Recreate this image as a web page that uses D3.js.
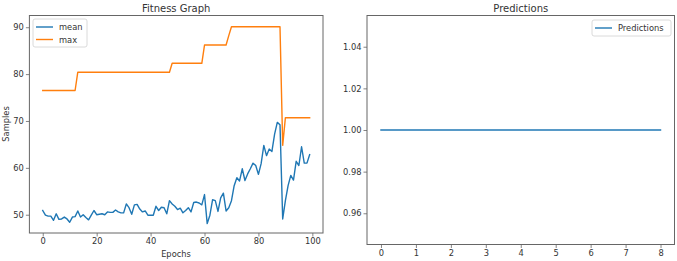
<!DOCTYPE html>
<html><head><meta charset="utf-8">
<script src="https://cdn.jsdelivr.net/npm/d3@7"></script>
<style>
html,body{margin:0;padding:0;background:#fff;}
svg{display:block;font-family:"DejaVu Sans",sans-serif;}
</style></head>
<body>
<svg id="c" width="677" height="261"></svg>
<script>
const epochs = d3.range(0, 100);
const meanValues = [50.9,49.9,49.7,49.7,48.8,50.2,49.0,49.1,49.5,49.1,
 48.4,49.5,49.6,50.8,49.5,50.0,49.4,48.9,49.9,50.9,
 50.0,50.1,50.2,50.0,50.6,50.5,50.5,51.0,50.6,50.4,
 50.4,52.3,51.5,50.1,52.1,52.2,51.2,50.6,50.8,49.9,
 49.9,49.9,51.8,50.9,51.6,51.5,50.2,53.0,52.3,51.8,
 51.1,51.4,50.4,50.9,51.5,50.6,52.6,52.7,52.5,52.1,
 54.3,48.1,49.9,53.2,53.0,50.7,53.6,54.6,50.8,51.5,
 53.0,56.2,57.9,57.2,59.8,57.3,58.7,59.8,61.0,60.5,
 58.6,60.9,64.8,62.6,64.0,63.5,67.2,69.7,69.2,49.1,
 53.0,56.2,58.4,57.4,61.4,60.5,64.5,61.0,61.0,62.8];
const maxValues = [
 76.5,76.5,76.5,76.5,76.5,76.5,76.5,76.5,76.5,76.5,
 76.5,76.5,76.5,80.4,80.4,80.4,80.4,80.4,80.4,80.4,
 80.4,80.4,80.4,80.4,80.4,80.4,80.4,80.4,80.4,80.4,
 80.4,80.4,80.4,80.4,80.4,80.4,80.4,80.4,80.4,80.4,
 80.4,80.4,80.4,80.4,80.4,80.4,80.4,80.4,82.3,82.3,
 82.3,82.3,82.3,82.3,82.3,82.3,82.3,82.3,82.3,82.3,
 86.2,86.2,86.2,86.2,86.2,86.2,86.2,86.2,86.2,88.2,
 90.1,90.1,90.1,90.1,90.1,90.1,90.1,90.1,90.1,90.1,
 90.1,90.1,90.1,90.1,90.1,90.1,90.1,90.1,90.1,64.8,
 70.7,70.7,70.7,70.7,70.7,70.7,70.7,70.7,70.7,70.7];
const leftXTicks = [0,20,40,60,80,100];
const leftYTicks = [50,60,70,80,90];
const predX = d3.range(0, 9);
const predValues = [1,1,1,1,1,1,1,1,1];
const rightXTicks = [0,1,2,3,4,5,6,7,8];
const rightYTicks = [0.96,0.98,1.00,1.02,1.04];

const svg = d3.select("#c");
const BLUE = "#1f77b4", ORANGE = "#ff7f0e", TXT = "#333", SP = "#666";
const tickFont = 8.3;

function panel(o) {
  const g = svg.append("g");
  const x = d3.scaleLinear().domain(o.xd).range([o.l, o.r]);
  const y = d3.scaleLinear().domain(o.yd).range([o.b, o.t]);
  const xa = g.append("g").attr("transform", `translate(0,${o.b})`)
    .call(d3.axisBottom(x).tickValues(o.xt).tickSize(3.5).tickPadding(2).tickFormat(o.xf || d3.format("d")));
  const ya = g.append("g").attr("transform", `translate(${o.l},0)`)
    .call(d3.axisLeft(y).tickValues(o.yt).tickSize(3.5).tickPadding(2).tickFormat(o.yf || d3.format("d")));
  [xa, ya].forEach(a => {
    a.select(".domain").remove();
    a.selectAll("line").attr("stroke", SP).attr("stroke-width", 0.8);
    a.selectAll("text").attr("fill", TXT).style("font-size", tickFont + "px").style("font-family", "DejaVu Sans");
  });
  o.series.forEach(s => {
    g.append("path").datum(s.v)
      .attr("fill", "none").attr("stroke", s.c).attr("stroke-width", 1.4)
      .attr("stroke-linejoin", "round").attr("stroke-linecap", "square")
      .attr("d", d3.line().x((d, i) => x(s.x[i])).y(d => y(d)));
  });
  g.append("rect").attr("x", o.l).attr("y", o.t).attr("width", o.r - o.l).attr("height", o.b - o.t)
    .attr("fill", "none").attr("stroke", SP).attr("stroke-width", 1);
  g.append("text").attr("x", (o.l + o.r) / 2).attr("y", o.t - 4).attr("text-anchor", "middle")
    .attr("fill", TXT).style("font-size", "10px").text(o.title);
  return {g, x, y};
}

function legend(g, x0, y0, w, items) {
  const h = 4 + items.length * 12;
  g.append("rect").attr("x", x0).attr("y", y0).attr("width", w).attr("height", h)
    .attr("rx", 2).attr("fill", "#fff").attr("fill-opacity", 0.8).attr("stroke", "#d0d0d0").attr("stroke-width", 0.8);
  items.forEach((it, i) => {
    const cy = y0 + 8 + i * 12.5;
    g.append("line").attr("x1", x0 + 3).attr("x2", x0 + 20).attr("y1", cy).attr("y2", cy)
      .attr("stroke", it.c).attr("stroke-width", 1.4);
    g.append("text").attr("x", x0 + 26).attr("y", cy + 3).attr("fill", TXT)
      .style("font-size", tickFont + "px").text(it.n);
  });
}

const L = panel({
  l: 29.4, r: 323, t: 15.5, b: 233,
  xd: [-4.95, 103.95], yd: [46.1, 92.5],
  xt: leftXTicks, yt: leftYTicks, title: "Fitness Graph",
  series: [{x: epochs, v: meanValues, c: BLUE}, {x: epochs, v: maxValues, c: ORANGE}]
});
legend(L.g, 33, 19, 54, [{n: "mean", c: BLUE}, {n: "max", c: ORANGE}]);
L.g.append("text").attr("x", 176).attr("y", 257).attr("text-anchor", "middle").attr("fill", TXT)
  .style("font-size", tickFont + "px").text("Epochs");
L.g.append("text").attr("transform", "translate(9,124) rotate(-90)").attr("text-anchor", "middle").attr("fill", TXT)
  .style("font-size", tickFont + "px").text("Samples");

const R = panel({
  l: 367, r: 674.5, t: 15.5, b: 244.5,
  xd: [-0.4, 8.4], yd: [0.945, 1.055],
  xt: rightXTicks, yt: rightYTicks, yf: d3.format(".2f"), title: "Predictions",
  series: [{x: predX, v: predValues, c: BLUE}]
});
legend(R.g, 592, 20, 79, [{n: "Predictions", c: BLUE}]);
</script>
</body></html>
